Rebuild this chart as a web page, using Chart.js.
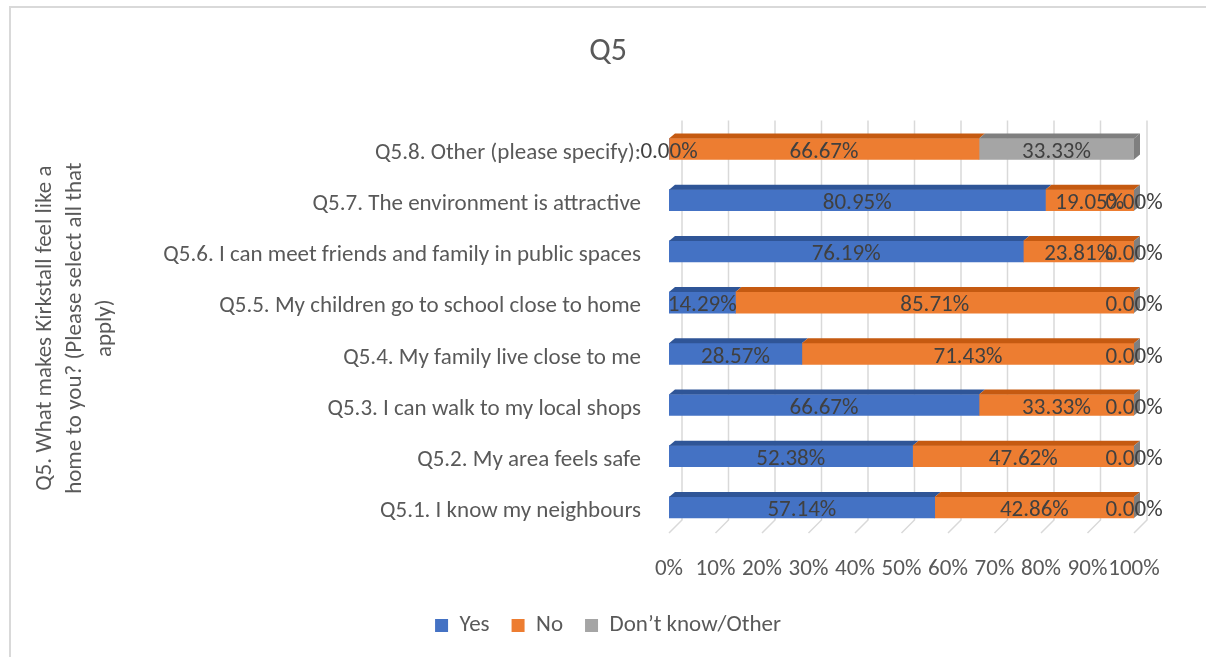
<!DOCTYPE html>
<html>
<head>
<meta charset="utf-8">
<script src="https://cdn.jsdelivr.net/npm/chart.js@4/dist/chart.umd.min.js"></script>
<style>
  html, body { margin: 0; padding: 0; background: #fff; overflow: hidden; }
  #marco { position: absolute; left: 9px; top: 6px; width: 1400px; height: 800px; border-left: 2px solid #d9d9d9; border-top: 2px solid #d9d9d9; }
  #contenedor { position: absolute; left: 0; top: 0; width: 1206px; height: 657px; }
</style>
</head>
<body>
<div id="marco"></div>
<div id="contenedor"><canvas id="grafico" width="1206" height="657"></canvas></div>
<script>
// Datos del gráfico (de arriba hacia abajo)
const categorias = [
  'Q5.8. Other (please specify):',
  'Q5.7. The environment is attractive',
  'Q5.6. I can meet friends and family in public spaces',
  'Q5.5. My children go to school close to home',
  'Q5.4. My family live close to me',
  'Q5.3. I can walk to my local shops',
  'Q5.2. My area feels safe',
  'Q5.1. I know my neighbours'
];
const valoresSi = [0, 80.95, 76.19, 14.29, 28.57, 66.67, 52.38, 57.14];
const valoresNo = [66.67, 19.05, 23.81, 85.71, 71.43, 33.33, 47.62, 42.86];
const valoresNoSabe = [33.33, 0, 0, 0, 0, 0, 0, 0];
const nombresSeries = ['Yes', 'No', 'Don\u2019t know/Other'];
const ticksEjeX = [0, 10, 20, 30, 40, 50, 60, 70, 80, 90, 100];
const tituloEjeY = ['Q5. What makes Kirkstall feel like a', 'home to you? (Please select all that', 'apply)'];

const colores = ['#4472C4', '#ED7D31', '#A5A5A5'];
const coloresTapa = ['#2F5597', '#C55A11', '#7F7F7F'];
const fuente = "Carlito, Lato, 'Open Sans', sans-serif";
const colorTexto = '#595959';
const tamFuente = 23;

// Profundidad del efecto 3D
const PROF_BARRA_X = 6, PROF_BARRA_Y = 5;
const PROF_GRID = 13;

const efecto3D = {
  id: 'efecto3D',
  beforeDatasetsDraw(chart) {
    const { ctx, chartArea, scales: { x } } = chart;
    ctx.save();
    ctx.strokeStyle = '#d9d9d9';
    ctx.lineWidth = 1.5;
    ticksEjeX.forEach(v => {
      const px = x.getPixelForValue(v);
      ctx.beginPath();
      ctx.moveTo(px + PROF_GRID, chartArea.top - 3);
      ctx.lineTo(px + PROF_GRID, chartArea.bottom - PROF_GRID);
      ctx.lineTo(px, chartArea.bottom);
      ctx.stroke();
    });
    ctx.restore();
  },
  afterDatasetsDraw(chart) {
    const { ctx } = chart;
    ctx.save();
    // Tapas superiores
    chart.data.datasets.forEach((ds, i) => {
      chart.getDatasetMeta(i).data.forEach(bar => {
        const izq = Math.min(bar.x, bar.base), der = Math.max(bar.x, bar.base);
        if (der - izq < 0.5) return;
        const arriba = bar.y - bar.height / 2;
        ctx.fillStyle = coloresTapa[i];
        ctx.beginPath();
        ctx.moveTo(izq, arriba);
        ctx.lineTo(der, arriba);
        ctx.lineTo(der + PROF_BARRA_X, arriba - PROF_BARRA_Y);
        ctx.lineTo(izq + PROF_BARRA_X, arriba - PROF_BARRA_Y);
        ctx.closePath();
        ctx.fill();
      });
    });
    // Cara lateral derecha (final de la pila)
    const ultimo = chart.data.datasets.length - 1;
    chart.getDatasetMeta(ultimo).data.forEach(bar => {
      const der = Math.max(bar.x, bar.base);
      const arriba = bar.y - bar.height / 2, abajo = bar.y + bar.height / 2;
      ctx.fillStyle = coloresTapa[ultimo];
      ctx.beginPath();
      ctx.moveTo(der, arriba);
      ctx.lineTo(der + PROF_BARRA_X, arriba - PROF_BARRA_Y);
      ctx.lineTo(der + PROF_BARRA_X, abajo - PROF_BARRA_Y);
      ctx.lineTo(der, abajo);
      ctx.closePath();
      ctx.fill();
    });
    // Etiquetas de datos
    ctx.font = tamFuente + 'px ' + fuente;
    ctx.fillStyle = '#404040';
    ctx.textAlign = 'center';
    ctx.textBaseline = 'middle';
    chart.data.datasets.forEach((ds, i) => {
      chart.getDatasetMeta(i).data.forEach((bar, j) => {
        const cx = (bar.x + bar.base) / 2;
        ctx.fillText(ds.data[j].toFixed(2) + '%', cx, bar.y + 3);
      });
    });
    ctx.restore();
  }
};

const series = [valoresSi, valoresNo, valoresNoSabe];

new Chart(document.getElementById('grafico'), {
  type: 'bar',
  data: {
    labels: categorias,
    datasets: series.map((d, i) => ({
      label: nombresSeries[i],
      data: d,
      backgroundColor: colores[i],
      borderWidth: 0,
      barThickness: 21
    }))
  },
  options: {
    indexAxis: 'y',
    responsive: false,
    animation: false,
    layout: { padding: { left: 10, right: 0, top: 0, bottom: 10 } },
    plugins: {
      title: {
        display: true,
        text: 'Q5',
        color: colorTexto,
        font: { family: fuente, size: 32, weight: 'normal' },
        padding: { top: 33, bottom: 52 }
      },
      legend: {
        position: 'bottom',
        labels: {
          color: colorTexto,
          font: { family: fuente, size: tamFuente },
          boxWidth: 13,
          boxHeight: 13,
          padding: 22
        }
      },
      tooltip: { enabled: false }
    },
    scales: {
      x: {
        stacked: true,
        min: 0,
        max: 100,
        grid: { display: false },
        border: { display: false },
        ticks: {
          stepSize: 10,
          autoSkip: false,
          callback: v => v + '%',
          color: colorTexto,
          font: { family: fuente, size: tamFuente },
          padding: 14,
          maxRotation: 0
        },
        afterFit: s => { s.height = 59; }
      },
      y: {
        stacked: true,
        grid: { display: false },
        border: { display: false },
        ticks: {
          color: colorTexto,
          font: { family: fuente, size: tamFuente },
          padding: 20,
          labelOffset: 4
        },
        title: {
          display: true,
          text: tituloEjeY,
          color: colorTexto,
          font: { family: fuente, size: tamFuente, lineHeight: 1.3 },
          padding: { top: 20, bottom: 0 }
        },
        afterFit: s => { s.width = 659; }
      },
      // eje vacío a la derecha para reservar el margen
      margen: {
        position: 'right',
        display: true,
        grid: { display: false },
        border: { display: false },
        ticks: { display: false },
        afterFit: s => { s.width = 72; }
      }
    }
  },
  plugins: [efecto3D]
});
</script>
</body>
</html>
